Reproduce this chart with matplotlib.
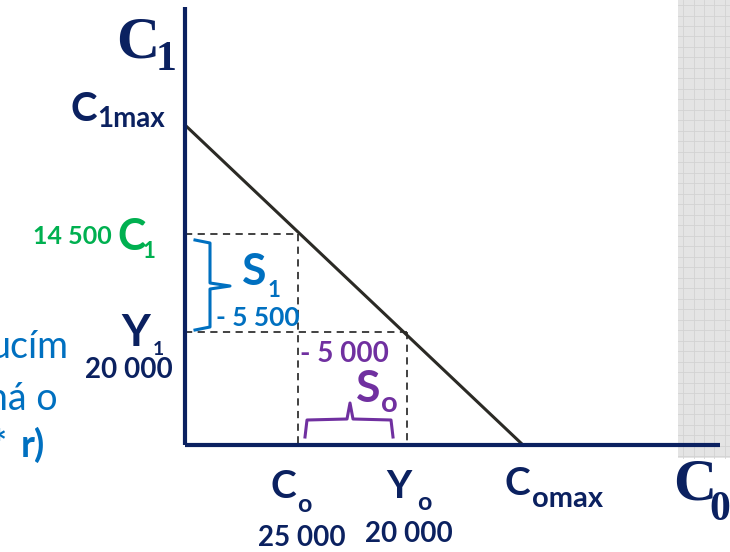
import matplotlib
matplotlib.use("Agg")
import matplotlib.pyplot as plt
import numpy as np

# ---- schematic data (diagram units) ----
c0_pos = 11.3      # C0 (25 000)
y0_pos = 22.2      # Y0 (20 000)
c0max_pos = 33.8   # C0max
c1max_pos = 32.0   # C1max
c1_pos = 21.1      # C1 (14 500)
y1_pos = 11.3      # Y1 (20 000)
x_axis_end = 53.5
y_axis_end = 43.8

NAVY = '#0b2160'
GREEN = '#00b050'
BLUE = '#0070c0'
PURPLE = '#7030a0'
LINE = '#2b2a25'

fig = plt.figure(figsize=(7.30, 5.52), dpi=100)
ax = fig.add_axes([0, 0, 1, 1])
ax.set_xlim(-18.5, 54.5)
ax.set_ylim(-10.7, 44.5)
ax.axis('off')

def P(px, py):
    return (px - 185) / 10.0, (445 - py) / 10.0

# gray grid panel on the right
x0p, y0p = P(678, 458)
x1p, y1p = P(730, 0)
ax.add_patch(plt.Rectangle((x0p, y0p), x1p - x0p, y1p - y0p, facecolor='#e4e4e4',
                           edgecolor='none', zorder=0))
for gx in np.arange(x0p + 0.5, x1p, 1.05):
    ax.plot([gx, gx], [y0p, y1p], color='#d3d3d3', lw=0.6, zorder=0.5)
for gy in np.arange(y1p - 0.5, y0p, -1.05):
    ax.plot([x0p, x1p], [gy, gy], color='#d3d3d3', lw=0.6, zorder=0.5)

# axes
ax.plot([0, 0], [0, y_axis_end], color=NAVY, lw=3.0, solid_capstyle='butt', zorder=3)
ax.plot([0, x_axis_end], [0, 0], color=NAVY, lw=3.0, solid_capstyle='butt', zorder=3)

# budget line
ax.plot([0, c0max_pos], [c1max_pos, 0], color=LINE, lw=2.2, zorder=2)

# dashed guides
dash = dict(color='#333333', lw=1.3, ls=(0, (4, 3)), zorder=1)
ax.plot([0, c0_pos], [c1_pos, c1_pos], **dash)
ax.plot([c0_pos, c0_pos], [c1_pos, 0], **dash)
ax.plot([0, y0_pos], [y1_pos, y1_pos], **dash)
ax.plot([y0_pos, y0_pos], [y1_pos, 0], **dash)

# braces
bx = [P(195, 240), P(210, 243), P(210, 283), P(230, 286), P(210, 289), P(210, 327), P(195, 330)]
ax.plot([p[0] for p in bx], [p[1] for p in bx], color=BLUE, lw=2.2, solid_joinstyle='round', zorder=4)
bp = [P(305, 437), P(307, 420), P(347, 419), P(350, 403), P(353, 419), P(391, 420), P(393, 437)]
ax.plot([p[0] for p in bp], [p[1] for p in bp], color=PURPLE, lw=2.2, solid_joinstyle='round', zorder=4)

SANS = ['Lato', 'DejaVu Sans']
SERIF = ['Liberation Serif', 'DejaVu Serif']

def T(px, py, s, size, color=NAVY, family=SANS, weight='bold', ha='left'):
    x, y = P(px, py)
    ax.text(x, y, s, fontsize=size, color=color, family=family, weight=weight,
            ha=ha, va='baseline', zorder=5)

# axis titles (serif)
T(116, 58, 'C', 43, family=SERIF)
T(156, 70, '1', 30, family=SERIF)
T(673, 500, 'C', 43, family=SERIF)
T(709, 520, '0', 30, family=SERIF)

# C1max
T(71, 121, 'C', 29)
T(97, 127, '1max', 20)

# green C1
T(112, 244, '14 500', 18, color=GREEN, ha='right')
T(117, 250, 'C', 31, color=GREEN)
T(143, 258, '1', 16, color=GREEN)

# S1
T(242, 285, 'S', 32, color=BLUE)
T(268, 297, '1', 16, color=BLUE)
T(216, 326, '- 5 500', 19, color=BLUE)

# Y1
T(121, 346, 'Y', 32)
T(153, 355, '1', 14)
T(85, 378, '20 000', 20)

# left cut-off text
T(68, 358, 'ucím', 27, color=BLUE, weight='normal', ha='right')
T(58, 410, 'má o', 27, color=BLUE, weight='normal', ha='right')
T(45, 457, 'r)', 27, color=BLUE, ha='right')
T(6, 457, '*', 27, color=BLUE, ha='right')

# S0
T(300, 362, '- 5 000', 20, color=PURPLE)
T(356, 402, 'S', 32, color=PURPLE)
T(381, 412, 'o', 21, color=PURPLE)

# bottom labels
T(270, 498, 'C', 28)
T(297, 512, 'o', 18)
T(258, 546, '25 000', 20)
T(386, 498, 'Y', 28)
T(417, 510, 'o', 18)
T(365, 542, '20 000', 20)
T(505, 495, 'C', 28)
T(532, 507, 'omax', 21)

fig.savefig('out.png', dpi=100)
